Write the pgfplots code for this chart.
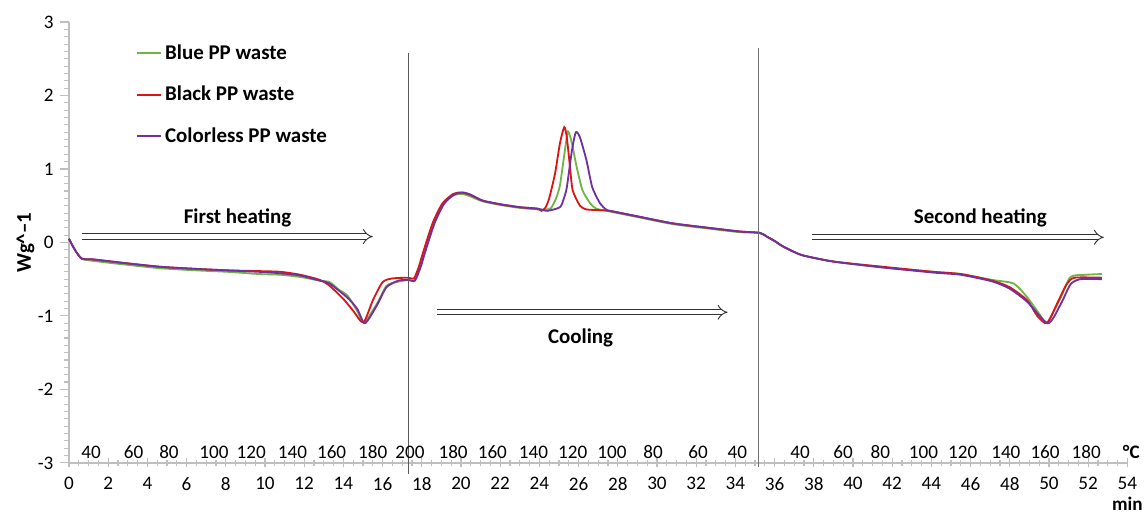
\documentclass[border=0pt]{standalone}
\usepackage{fontspec}
\setmainfont{Carlito}
\usepackage{pgfplots}
\pgfplotsset{compat=1.18}
\usetikzlibrary{arrows.meta}
\definecolor{ppgreen}{RGB}{112,180,70}
\definecolor{ppred}{RGB}{220,20,20}
\definecolor{pppurple}{RGB}{112,48,160}
\definecolor{axgray}{RGB}{191,191,191}

\begin{document}
\begin{tikzpicture}
\begin{axis}[
  scale only axis, width=581pt, height=242pt,
  xmin=0, xmax=54, ymin=-3, ymax=3,
  axis x line=bottom, axis y line=left,
  axis line style={axgray, -, line width=0.8pt},
  xtick={0,2,...,54}, ytick={-3,...,3},
  minor x tick num=3, minor y tick num=9,
  tick style={axgray, line width=0.6pt},
  major tick length=5pt, minor tick length=3pt,
  xtick align=center, ytick align=outside,
  tick label style={font=\fontsize{10.5}{12}\selectfont},
  x tick label style={yshift=-2pt},
  /pgf/number format/assume math mode=true,
  clip=false,
  xlabel={\textbf{min}},
  xlabel style={at={(axis description cs:1,0)}, anchor=center, yshift=-22.5pt, font=\fontsize{10.5}{12}\selectfont},
  ylabel={\textbf{Wg\textasciicircum{}–1}},
  ylabel style={font=\fontsize{11.5}{14}\selectfont, yshift=-5pt},
  legend style={at={(axis cs:3.4,2.75)}, anchor=north west, draw=none, fill=none,
    font=\fontsize{11.5}{14}\selectfont\bfseries, row sep=9.2pt, inner sep=0pt,
    cells={anchor=west}},
  legend image code/.code={\draw[#1, line width=1pt] (0pt,0pt) -- (13pt,0pt);},
  every axis plot/.append style={line width=1pt, smooth, tension=0.4},
]
% Blue PP waste
\addplot[color=ppgreen] coordinates {
(0,0.05) (0.3,-0.10) (0.65,-0.22) (1.2,-0.25) (2.5,-0.29) (4.6,-0.35) (6.5,-0.38) (8.1,-0.40) (9.7,-0.43) (10.8,-0.44) (11.8,-0.47) (12.8,-0.52) (13.3,-0.54) (13.8,-0.65) (14.2,-0.72) (14.7,-0.93) (15.05,-1.09) (15.7,-0.84) (16.2,-0.59) (16.7,-0.54) (17.3,-0.51) (17.65,-0.51) (17.9,-0.33) (18.1,-0.15) (18.6,0.26) (19.1,0.53) (19.6,0.64) (20.05,0.66) (20.45,0.63) (21.1,0.56) (22.0,0.51) (23.0,0.47) (23.9,0.45) (24.4,0.45) (24.6,0.47) (24.85,0.60) (25.05,0.78) (25.3,1.25) (25.46,1.51) (25.66,1.35) (25.9,1.03) (26.2,0.71) (26.6,0.53) (26.9,0.46) (27.6,0.42) (29.1,0.34) (30.8,0.25) (32.6,0.19) (34.2,0.14) (35.25,0.13) (35.6,0.08) (36.0,0.02) (36.4,-0.05) (37.0,-0.13) (37.5,-0.18) (39.0,-0.26) (41.5,-0.34) (44.1,-0.40) (45.5,-0.43) (47.1,-0.51) (48.2,-0.56) (48.9,-0.75) (49.5,-0.97) (49.9,-1.09) (50.6,-0.75) (51.1,-0.47) (51.9,-0.44) (52.7,-0.43)
};
\addlegendentry{Blue PP waste}
% Black PP waste
\addplot[color=ppred] coordinates {
(0,0.05) (0.3,-0.10) (0.65,-0.22) (1.2,-0.23) (2.5,-0.27) (4.6,-0.33) (6.5,-0.36) (8.1,-0.38) (9.7,-0.39) (10.8,-0.40) (11.8,-0.44) (12.8,-0.51) (13.3,-0.59) (14.0,-0.77) (14.5,-0.93) (15.02,-1.09) (15.5,-0.79) (16.0,-0.54) (16.5,-0.49) (17.3,-0.48) (17.6,-0.49) (17.85,-0.33) (18.05,-0.15) (18.55,0.26) (19.05,0.53) (19.6,0.66) (20.0,0.68) (20.45,0.65) (21.1,0.57) (22.0,0.52) (23.0,0.48) (23.9,0.46) (24.1,0.43) (24.3,0.47) (24.5,0.60) (24.8,0.94) (25.05,1.35) (25.27,1.57) (25.4,1.43) (25.56,1.03) (25.7,0.71) (26.07,0.50) (26.4,0.45) (27.0,0.44) (27.6,0.43) (29.1,0.35) (30.8,0.26) (32.6,0.20) (34.2,0.15) (35.25,0.13) (35.6,0.08) (36.0,0.02) (36.4,-0.05) (37.0,-0.13) (37.5,-0.18) (39.0,-0.26) (41.5,-0.33) (44.1,-0.40) (45.5,-0.43) (47.1,-0.52) (48.0,-0.61) (48.9,-0.79) (49.4,-1.00) (49.9,-1.10) (50.4,-0.84) (50.9,-0.57) (51.3,-0.48) (52.7,-0.48)
};
\addlegendentry{Black PP waste}
% Colorless PP waste
\addplot[color=pppurple] coordinates {
(0,0.05) (0.3,-0.10) (0.65,-0.22) (1.2,-0.23) (2.5,-0.27) (4.6,-0.33) (6.5,-0.36) (8.1,-0.38) (9.7,-0.40) (10.8,-0.42) (11.8,-0.45) (12.8,-0.52) (13.3,-0.56) (14.2,-0.75) (14.7,-0.90) (15.1,-1.10) (15.7,-0.86) (16.2,-0.61) (16.8,-0.52) (17.3,-0.51) (17.65,-0.52) (17.95,-0.33) (18.15,-0.15) (18.65,0.26) (19.15,0.53) (19.65,0.65) (20.1,0.68) (20.5,0.65) (21.1,0.57) (22.0,0.52) (23.0,0.48) (23.9,0.46) (24.4,0.43) (25.05,0.48) (25.25,0.60) (25.4,0.75) (25.66,1.25) (25.86,1.50) (26.07,1.43) (26.4,1.12) (26.7,0.75) (27.1,0.53) (27.4,0.45) (27.6,0.43) (29.1,0.35) (30.8,0.26) (32.6,0.20) (34.2,0.15) (35.25,0.13) (35.6,0.08) (36.0,0.02) (36.4,-0.05) (37.0,-0.13) (37.5,-0.18) (39.0,-0.26) (41.5,-0.34) (44.1,-0.41) (45.5,-0.44) (47.1,-0.53) (48.0,-0.63) (48.9,-0.81) (49.95,-1.10) (50.6,-0.84) (51.1,-0.57) (51.6,-0.50) (52.7,-0.50)
};
\addlegendentry{Colorless PP waste}
% temperature scale above the time axis
\addplot[draw=none, mark=none, forget plot, nodes near coords, point meta=explicit symbolic,
  nodes near coords style={anchor=south, inner sep=1pt, yshift=1pt, font=\fontsize{10.5}{12}\selectfont}]
coordinates {
(1.13,-3) [40] (3.3,-3) [60] (5.1,-3) [80] (7.4,-3) [100] (9.3,-3) [120] (11.4,-3) [140] (13.4,-3) [160] (15.5,-3) [180] (17.4,-3) [200]
(19.6,-3) [180] (21.6,-3) [160] (23.7,-3) [140] (25.7,-3) [120] (27.7,-3) [100] (29.8,-3) [80] (32.1,-3) [60] (34.1,-3) [40]
(37.3,-3) [40] (39.5,-3) [60] (41.4,-3) [80] (43.6,-3) [100] (45.6,-3) [120] (47.8,-3) [140] (49.8,-3) [160] (51.9,-3) [180] (54.2,-3) [\textbf{°C}]
};
% segment separators
\draw[black!65, line width=0.6pt] (axis cs:17.3,-3.15) -- (axis cs:17.3,2.58);
\draw[black!55, line width=0.6pt] (axis cs:35.2,-3.05) -- (axis cs:35.2,2.65);
% process arrows
\draw[black!80, line width=0.5pt, double=white, double distance=2.4pt, -{Implies}] (axis cs:0.66,0.08) -- (axis cs:15.5,0.08);
\draw[black!80, line width=0.5pt, double=white, double distance=2.4pt, -{Implies}] (axis cs:18.8,-0.95) -- (axis cs:33.6,-0.95);
\draw[black!80, line width=0.5pt, double=white, double distance=2.4pt, -{Implies}] (axis cs:37.9,0.07) -- (axis cs:52.8,0.07);
\node[font=\fontsize{11.5}{14}\selectfont\bfseries] at (axis cs:8.6,0.34) {First heating};
\node[font=\fontsize{11.5}{14}\selectfont\bfseries] at (axis cs:26.1,-1.30) {Cooling};
\node[font=\fontsize{11.5}{14}\selectfont\bfseries] at (axis cs:46.5,0.34) {Second heating};
% picture frame matching the reference margins
\coordinate (bbSW) at (axis cs:-3.52,-3.72);
\coordinate (bbNE) at (axis cs:54.9,3.30);
\end{axis}
\pgfresetboundingbox
\path[use as bounding box] (bbSW) rectangle (bbNE);
\end{tikzpicture}
\end{document}
